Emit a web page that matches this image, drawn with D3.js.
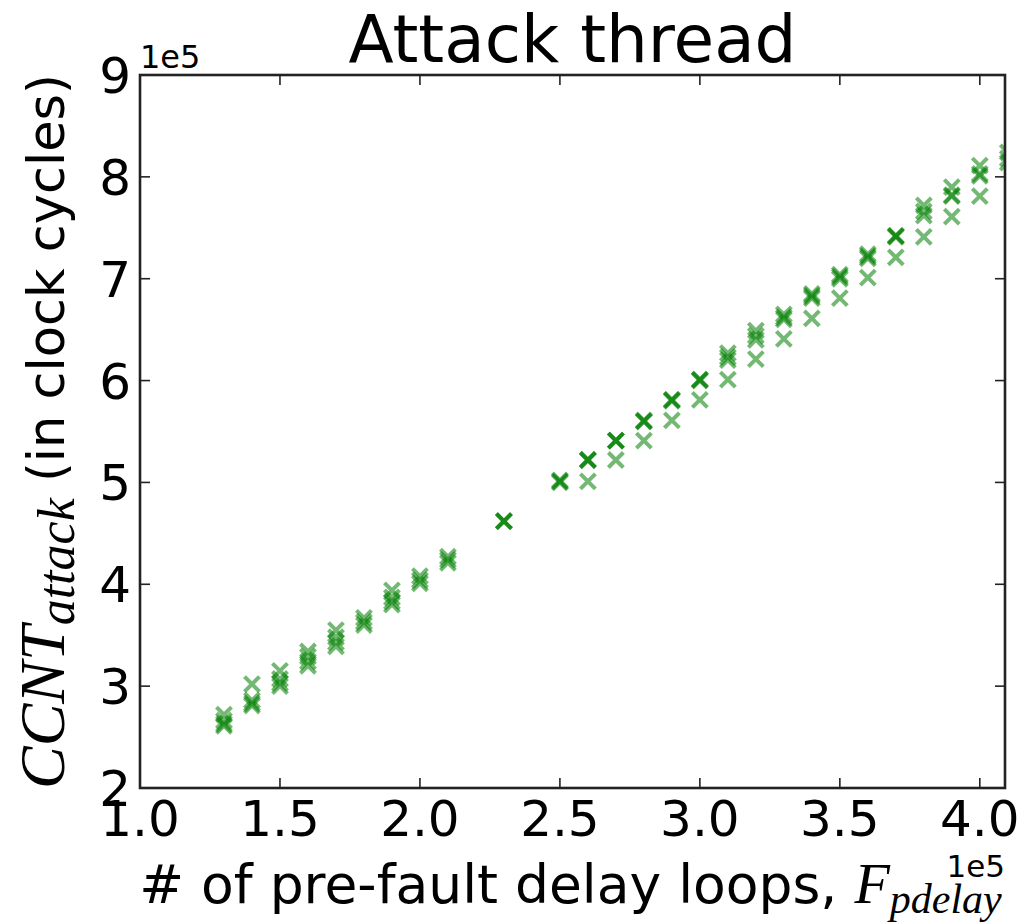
<!DOCTYPE html>
<html>
<head>
<meta charset="utf-8">
<script src="https://cdn.jsdelivr.net/npm/d3@7"></script>
<style>
  html, body { margin: 0; padding: 0; background: #fff; }
  svg { display: block; }
</style>
</head>
<body>
<script>
// Pre-fault delay loop counts (×1e5) and the measured attack-thread cycle counts (×1e5) per count.
const delayLoops = [1.3, 1.4, 1.5, 1.6, 1.7, 1.8, 1.9, 2.0, 2.1, 2.3, 2.5, 2.6, 2.7, 2.8,
                    2.9, 3.0, 3.1, 3.2, 3.3, 3.4, 3.5, 3.6, 3.7, 3.8, 3.9, 4.0, 4.1];
const ccntRuns = [
  [2.72, 2.66, 2.63, 2.61],
  [3.02, 2.86, 2.83, 2.81],
  [3.15, 3.07, 3.03, 3.00],
  [3.34, 3.29, 3.24, 3.20],
  [3.55, 3.48, 3.43, 3.39],
  [3.67, 3.63, 3.60],
  [3.94, 3.87, 3.83, 3.80],
  [4.08, 4.04, 4.01],
  [4.27, 4.24, 4.21],
  [4.62, 4.62, 4.62],
  [5.02, 5.01, 5.00],
  [5.22, 5.22, 5.22, 5.01],
  [5.41, 5.41, 5.41, 5.22],
  [5.61, 5.60, 5.60, 5.41],
  [5.81, 5.81, 5.80, 5.61],
  [6.01, 6.01, 6.00, 5.81],
  [6.27, 6.23, 6.20, 6.01],
  [6.49, 6.44, 6.40, 6.21],
  [6.65, 6.62, 6.60, 6.41],
  [6.85, 6.83, 6.81, 6.61],
  [7.04, 7.02, 7.00, 6.81],
  [7.24, 7.22, 7.20, 7.01],
  [7.42, 7.42, 7.41, 7.21],
  [7.72, 7.66, 7.62, 7.41],
  [7.90, 7.82, 7.81, 7.61],
  [8.11, 8.03, 8.01, 7.81],
  [8.24, 8.18, 8.14]
];
const xTicks = [1.0, 1.5, 2.0, 2.5, 3.0, 3.5, 4.0];
const yTicks = [2, 3, 4, 5, 6, 7, 8, 9];
const xDomain = [1.0, 4.09];
const yDomain = [2, 9];

const W = 1028, H = 924;
const plot = { left: 140, right: 1005, top: 75, bottom: 788 };

const svg = d3.select("body").append("svg")
  .attr("width", W).attr("height", H)
  .attr("font-family", "'DejaVu Sans', sans-serif");

const x = d3.scaleLinear().domain(xDomain).range([plot.left, plot.right]);
const y = d3.scaleLinear().domain(yDomain).range([plot.bottom, plot.top]);

// flatten into points
const points = [];
delayLoops.forEach((d, i) => ccntRuns[i].forEach(v => points.push({ x: d, y: v })));

svg.append("defs").append("clipPath").attr("id", "plot-clip")
  .append("rect")
  .attr("x", plot.left).attr("y", plot.top)
  .attr("width", plot.right - plot.left).attr("height", plot.bottom - plot.top);

// x markers, semi-transparent so repeated runs stack darker
const r = 7.5;
svg.append("g").attr("clip-path", "url(#plot-clip)")
  .selectAll("path").data(points).join("path")
  .attr("d", d => {
    const cx = x(d.x), cy = y(d.y);
    return `M${cx - r},${cy - r}L${cx + r},${cy + r}M${cx - r},${cy + r}L${cx + r},${cy - r}`;
  })
  .attr("fill", "none")
  .attr("stroke", "green")
  .attr("stroke-opacity", 0.55)
  .attr("stroke-width", 4);

// inward ticks on all four sides
const tickLen = 10;
const ticksG = svg.append("g").attr("stroke", "#222").attr("stroke-width", 1.6);
xTicks.forEach(t => {
  ticksG.append("line").attr("x1", x(t)).attr("x2", x(t)).attr("y1", plot.bottom).attr("y2", plot.bottom - tickLen);
  ticksG.append("line").attr("x1", x(t)).attr("x2", x(t)).attr("y1", plot.top).attr("y2", plot.top + tickLen);
});
yTicks.forEach(t => {
  ticksG.append("line").attr("y1", y(t)).attr("y2", y(t)).attr("x1", plot.left).attr("x2", plot.left + tickLen);
  ticksG.append("line").attr("y1", y(t)).attr("y2", y(t)).attr("x1", plot.right).attr("x2", plot.right - tickLen);
});

// frame
svg.append("rect")
  .attr("x", plot.left).attr("y", plot.top)
  .attr("width", plot.right - plot.left).attr("height", plot.bottom - plot.top)
  .attr("fill", "none").attr("stroke", "#222").attr("stroke-width", 2.6);

// tick labels
const fmtX = d3.format(".1f");
svg.append("g").selectAll("text").data(xTicks).join("text")
  .attr("x", d => x(d)).attr("y", 836)
  .attr("text-anchor", "middle")
  .attr("font-size", 50)
  .text(d => fmtX(d));

svg.append("g").selectAll("text").data(yTicks).join("text")
  .attr("x", 131).attr("y", d => y(d) + 18)
  .attr("text-anchor", "end")
  .attr("font-size", 50)
  .text(d => d);

// offset multipliers
svg.append("text").attr("x", 140).attr("y", 68).attr("font-size", 32).text("1e5");
svg.append("text").attr("x", 1005).attr("y", 877).attr("text-anchor", "end").attr("font-size", 31).text("1e5");

// title
svg.append("text")
  .attr("x", (plot.left + plot.right) / 2).attr("y", 62)
  .attr("text-anchor", "middle")
  .attr("font-size", 66)
  .text("Attack thread");

// x axis label
const xl = svg.append("text")
  .attr("x", (plot.left + plot.right) / 2 - 2).attr("y", 903)
  .attr("text-anchor", "middle")
  .attr("font-size", 53.5);
xl.append("tspan").text("# of pre-fault delay loops, ");
xl.append("tspan").attr("font-family", "'Liberation Serif', serif").attr("font-style", "italic").attr("font-size", 58).text("F");
xl.append("tspan").attr("font-family", "'Liberation Serif', serif").attr("font-style", "italic").attr("font-size", 42).attr("dy", 10).text("pdelay");

// y axis label
const yl = svg.append("text")
  .attr("transform", `translate(64,${(plot.top + plot.bottom) / 2}) rotate(-90)`)
  .attr("text-anchor", "middle")
  .attr("font-size", 51);
yl.append("tspan").attr("font-family", "'Liberation Serif', serif").attr("font-style", "italic").attr("font-size", 64).text("CCNT");
yl.append("tspan").attr("font-family", "'Liberation Serif', serif").attr("font-style", "italic").attr("font-size", 52).attr("dy", 10).text("attack");
yl.append("tspan").attr("dy", -10).text(" (in clock cycles)");
</script>
</body>
</html>
